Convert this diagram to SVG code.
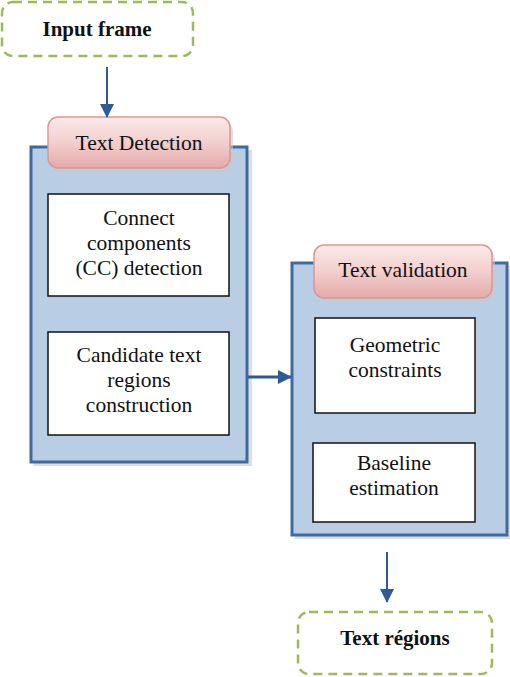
<svg xmlns="http://www.w3.org/2000/svg" width="510" height="677" viewBox="0 0 510 677">
<defs>
<linearGradient id="pink" x1="0" y1="0" x2="0" y2="1">
<stop offset="0" stop-color="#FBEAEA"/>
<stop offset="0.5" stop-color="#F2CFCE"/>
<stop offset="1" stop-color="#E3A9A8"/>
</linearGradient>
<marker id="ahb" markerWidth="14" markerHeight="14" refX="13" refY="7" orient="auto" markerUnits="userSpaceOnUse" viewBox="0 0 14 14">
<path d="M0,0 L14,7 L0,14 z" fill="#2E5C92"/>
</marker>
</defs>
<style>
.term{fill:#fff;stroke:#9BBB59;stroke-width:2.5;stroke-dasharray:9 6}
.panel{fill:#B9CDE5;stroke:#3F6A9E;stroke-width:3}
.shadow{fill:#C8C8C8;opacity:0.6}
.tab{fill:url(#pink);stroke:#D99694;stroke-width:1.5}
.box{fill:#fff;stroke:#111;stroke-width:1.5}
.t{font-size:21.5px;fill:#111;text-anchor:middle}
.b{font-weight:bold;font-size:21px}
.conn{stroke:#2E5C92;fill:none}
</style>
<g font-family="'Liberation Serif', 'Times New Roman', 'DejaVu Serif', serif">
<g id="input-frame">
<rect class="term" x="2" y="2" width="191" height="54" rx="11"/>
<text class="t b" x="97" y="36">Input frame</text>
</g>
<g id="text-detection">
<rect class="shadow" x="34" y="150" width="218" height="316"/>
<rect class="panel" x="31" y="147" width="216" height="315"/>
<rect class="shadow" x="51" y="121" width="182" height="51" rx="10"/>
<rect class="tab" x="48" y="117" width="182" height="51" rx="10"/>
<text class="t" x="139" y="150">Text Detection</text>
</g>
<g id="cc-detection">
<rect class="box" x="48" y="194" width="181" height="102"/>
<text class="t" x="139" y="225">Connect</text>
<text class="t" x="139" y="250">components</text>
<text class="t" x="139" y="275">(CC) detection</text>
</g>
<g id="candidate-regions">
<rect class="box" x="48" y="332" width="181" height="103"/>
<text class="t" x="139" y="362">Candidate text</text>
<text class="t" x="139" y="387">regions</text>
<text class="t" x="139" y="412">construction</text>
</g>
<g id="text-validation">
<rect class="shadow" x="295" y="266" width="216" height="273"/>
<rect class="panel" x="292" y="263" width="215" height="272"/>
<rect class="shadow" x="317" y="249" width="178" height="53" rx="10"/>
<rect class="tab" x="314" y="245" width="178" height="53" rx="10"/>
<text class="t" x="403" y="277">Text validation</text>
</g>
<g id="geometric-constraints">
<rect class="box" x="315" y="318" width="160" height="95"/>
<text class="t" x="395" y="352">Geometric</text>
<text class="t" x="395" y="377">constraints</text>
</g>
<g id="baseline-estimation">
<rect class="box" x="313" y="443" width="162" height="79"/>
<text class="t" x="394" y="470">Baseline</text>
<text class="t" x="394" y="495">estimation</text>
</g>
<g id="text-regions">
<rect class="term" x="298" y="612" width="194" height="62" rx="11"/>
<text class="t b" x="395" y="645">Text régions</text>
</g>
</g>
<g id="connectors">
<line class="conn" x1="107" y1="67" x2="107" y2="117" stroke-width="2" marker-end="url(#ahb)"/>
<line class="conn" x1="248" y1="377" x2="291" y2="377" stroke-width="3" marker-end="url(#ahb)"/>
<line class="conn" x1="387" y1="552" x2="387" y2="602" stroke-width="2" marker-end="url(#ahb)"/>
</g>
</svg>
